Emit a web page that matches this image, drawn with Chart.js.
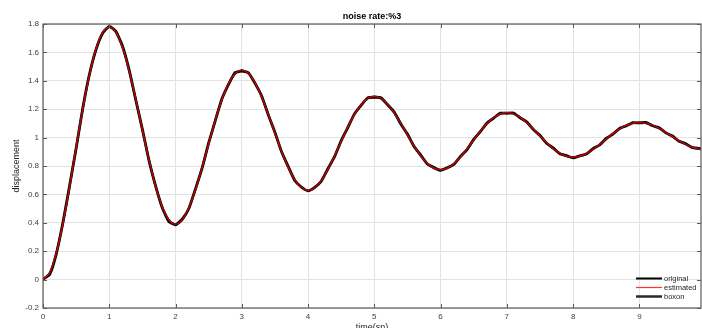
<!DOCTYPE html>
<html><head><meta charset="utf-8">
<script src="https://cdn.jsdelivr.net/npm/chart.js@4/dist/chart.umd.min.js"></script>
<style>html,body{margin:0;padding:0;background:#fff;overflow:hidden}</style>
</head><body>
<canvas id="c" width="702" height="328"></canvas>
<script>
const chartTitle = 'noise rate:%3';
const xAxisTitle = 'time(sn)';
const yAxisTitle = 'displacement';
const seriesNames = ['original', 'estimated', 'boxon'];
const xTickLabels = ['0','1','2','3','4','5','6','7','8','9'];
const yTickLabels = ['-0.2','0','0.2','0.4','0.6','0.8','1','1.2','1.4','1.6','1.8'];

const time = [0,0.1,0.2,0.3,0.4,0.5,0.6,0.7,0.8,0.9,
1,1.1,1.2,1.3,1.4,1.5,1.6,1.7,1.8,1.9,
2,2.1,2.2,2.3,2.4,2.5,2.6,2.7,2.8,2.9,
3,3.1,3.2,3.3,3.4,3.5,3.6,3.7,3.8,3.9,
4,4.1,4.2,4.3,4.4,4.5,4.6,4.7,4.8,4.9,
5,5.1,5.2,5.3,5.4,5.5,5.6,5.7,5.8,5.9,
6,6.1,6.2,6.3,6.4,6.5,6.6,6.7,6.8,6.9,
7,7.1,7.2,7.3,7.4,7.5,7.6,7.7,7.8,7.9,
8,8.1,8.2,8.3,8.4,8.5,8.6,8.7,8.8,8.9,
9,9.1,9.2,9.3,9.4,9.5,9.6,9.7,9.8,9.9,9.93];

const original = [0.003,0.035,0.180,0.400,0.657,0.924,1.207,1.444,1.620,1.734,
1.784,1.748,1.644,1.477,1.265,1.058,0.838,0.659,0.506,0.409,
0.385,0.425,0.499,0.637,0.783,0.962,1.120,1.273,1.375,1.458,
1.469,1.457,1.382,1.293,1.160,1.038,0.900,0.797,0.698,0.652,
0.625,0.650,0.693,0.781,0.866,0.979,1.071,1.167,1.227,1.280,
1.284,1.281,1.231,1.180,1.096,1.025,0.937,0.877,0.814,0.790,
0.769,0.788,0.811,0.868,0.916,0.988,1.042,1.103,1.137,1.172,
1.171,1.173,1.140,1.111,1.057,1.016,0.960,0.927,0.886,0.873,
0.857,0.872,0.884,0.922,0.948,0.994,1.024,1.065,1.082,1.106,
1.103,1.107,1.083,1.069,1.033,1.011,0.974,0.957,0.929,0.924,0.921];

const estimated = [0.000,0.048,0.186,0.395,0.652,0.930,1.202,1.440,1.625,1.741,
1.780,1.743,1.635,1.472,1.271,1.054,0.843,0.656,0.512,0.421,
0.391,0.420,0.504,0.632,0.788,0.958,1.123,1.268,1.381,1.451,
1.475,1.452,1.387,1.288,1.165,1.033,0.904,0.791,0.703,0.648,
0.629,0.647,0.698,0.776,0.871,0.974,1.075,1.163,1.232,1.275,
1.290,1.275,1.236,1.175,1.101,1.020,0.942,0.872,0.819,0.785,
0.774,0.785,0.816,0.863,0.921,0.984,1.046,1.099,1.141,1.167,
1.176,1.168,1.144,1.107,1.061,1.012,0.964,0.922,0.890,0.869,
0.862,0.869,0.888,0.917,0.952,0.990,1.028,1.061,1.086,1.102,
1.107,1.102,1.087,1.065,1.037,1.007,0.978,0.953,0.933,0.920,0.918];

const boxon = [0.000,0.046,0.184,0.394,0.651,0.929,1.201,1.439,1.624,1.740,
1.779,1.742,1.634,1.471,1.270,1.053,0.842,0.655,0.511,0.420,
0.390,0.419,0.503,0.631,0.787,0.957,1.122,1.267,1.380,1.450,
1.474,1.451,1.386,1.287,1.164,1.032,0.903,0.790,0.702,0.647,
0.628,0.646,0.697,0.775,0.870,0.973,1.074,1.162,1.231,1.274,
1.289,1.274,1.235,1.174,1.100,1.019,0.941,0.871,0.818,0.784,
0.773,0.784,0.815,0.862,0.920,0.983,1.045,1.098,1.140,1.166,
1.175,1.167,1.143,1.106,1.060,1.011,0.963,0.921,0.889,0.868,
0.861,0.868,0.887,0.916,0.951,0.989,1.027,1.060,1.085,1.101,
1.106,1.101,1.086,1.064,1.036,1.006,0.977,0.952,0.932,0.919,0.917];

const FONT = '"Liberation Sans", Arial, sans-serif';
const pts = arr => time.map((t, i) => ({x: t, y: arr[i]}));

const framePlugin = {
  id: 'frame',
  afterDatasetsDraw(chart) {
    const {ctx, chartArea: a, scales: {x, y}} = chart;
    ctx.save();
    ctx.strokeStyle = '#5a5a5a';
    ctx.lineWidth = 1.2;
    ctx.strokeRect(a.left, a.top, a.right - a.left, a.bottom - a.top);
    ctx.lineWidth = 1;
    ctx.beginPath();
    x.ticks.forEach(t => {
      const px = Math.round(x.getPixelForValue(t.value)) + 0.5;
      ctx.moveTo(px, a.bottom); ctx.lineTo(px, a.bottom - 4);
      ctx.moveTo(px, a.top); ctx.lineTo(px, a.top + 4);
    });
    y.ticks.forEach(t => {
      const py = Math.round(y.getPixelForValue(t.value)) + 0.5;
      ctx.moveTo(a.left, py); ctx.lineTo(a.left + 4, py);
      ctx.moveTo(a.right, py); ctx.lineTo(a.right - 4, py);
    });
    ctx.stroke();
    ctx.restore();
  },
  afterDraw(chart) {
    const {ctx, chartArea: a} = chart;
    const ds = chart.data.datasets;
    ctx.save();
    ctx.font = '7.5px ' + FONT;
    ctx.textBaseline = 'middle';
    ctx.fillStyle = '#262626';
    const x0 = a.right - 65, x1 = a.right - 39;
    ds.forEach((d, i) => {
      const yy = a.bottom - 29.5 + i * 9;
      ctx.strokeStyle = d.legendColor;
      ctx.lineWidth = d.legendWidth;
      ctx.beginPath(); ctx.moveTo(x0, yy); ctx.lineTo(x1, yy); ctx.stroke();
      ctx.fillText(d.label, x1 + 2, yy);
    });
    ctx.restore();
  }
};

new Chart(document.getElementById('c'), {
  type: 'line',
  data: {
    datasets: [
      {label: seriesNames[0], data: pts(original), borderColor: '#000', borderWidth: 2.8, pointRadius: 0, tension: 0.15, order: 2, legendColor: '#000', legendWidth: 2},
      {label: seriesNames[1], data: pts(estimated), borderColor: '#c80000', borderWidth: 1.3, pointRadius: 0, tension: 0.3, order: 0, legendColor: '#ff3030', legendWidth: 1.2},
      {label: seriesNames[2], data: pts(boxon), borderColor: '#1a1a1a', borderWidth: 2, pointRadius: 0, tension: 0.3, order: 1, legendColor: '#2a2a2a', legendWidth: 2.5}
    ]
  },
  options: {
    responsive: false,
    animation: false,
    layout: {padding: {left: 0, right: 1, top: 0, bottom: 0}},
    plugins: {
      legend: {display: false},
      tooltip: {enabled: false},
      title: {
        display: true, text: chartTitle, fullSize: false, color: '#000',
        font: {family: FONT, size: 9, weight: 'bold'},
        padding: {top: 11, bottom: 2.2}
      }
    },
    scales: {
      x: {
        type: 'linear', min: 0, max: 9.93,
        afterFit: s => { s.height = 20; },
        grid: {color: '#e2e2e2', drawTicks: false},
        border: {display: false},
        ticks: {
          stepSize: 1, includeBounds: false, padding: 4, color: '#404040', maxRotation: 0,
          font: {family: FONT, size: 8},
          callback: v => xTickLabels[Math.round(v)]
        },
        title: {display: true, text: xAxisTitle, color: '#262626', font: {family: FONT, size: 9}, padding: {top: 0, bottom: -5}}
      },
      y: {
        type: 'linear', min: -0.2, max: 1.8,
        afterFit: s => { s.width = 43; },
        grid: {color: '#e2e2e2', drawTicks: false},
        border: {display: false},
        ticks: {
          stepSize: 0.2, padding: 4, color: '#404040',
          font: {family: FONT, size: 8},
          callback: v => yTickLabels[Math.round((v + 0.2) / 0.2)]
        },
        title: {display: true, text: yAxisTitle, color: '#262626', font: {family: FONT, size: 9}, padding: {top: 11, bottom: 0}}
      }
    }
  },
  plugins: [framePlugin]
});
</script>
</body></html>
